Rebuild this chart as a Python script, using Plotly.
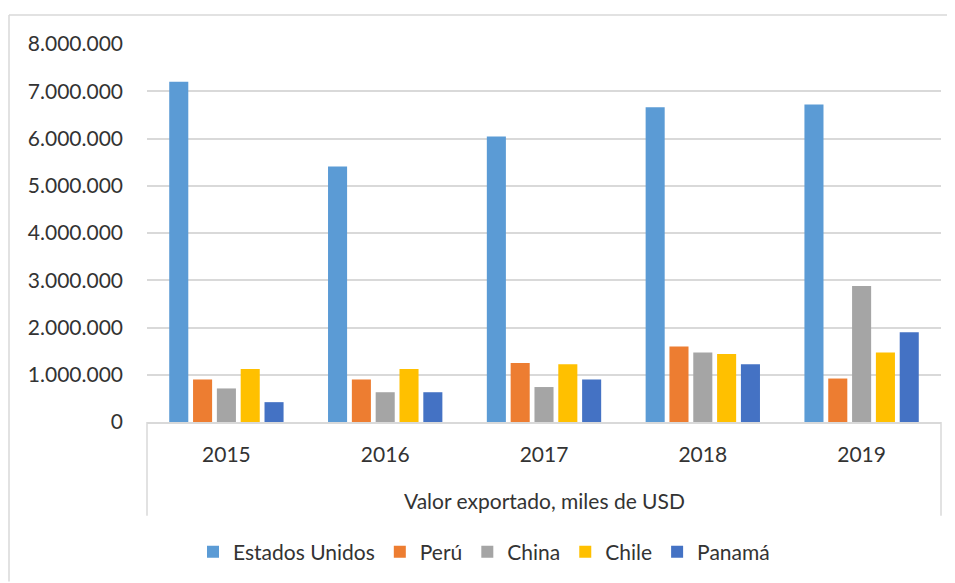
import plotly.graph_objects as go

years = ["2015", "2016", "2017", "2018", "2019"]
axis_title = "Valor exportado, miles de USD"

estados_unidos = [7200000, 5410000, 6040000, 6660000, 6720000]
peru = [900000, 900000, 1250000, 1600000, 920000]
china = [710000, 630000, 740000, 1470000, 2880000]
chile = [1120000, 1120000, 1220000, 1440000, 1470000]
panama = [420000, 630000, 900000, 1220000, 1900000]

series_names = ["Estados Unidos", "Perú", "China", "Chile", "Panamá"]
series_values = [estados_unidos, peru, china, chile, panama]
colors = ["#5B9BD5", "#ED7D31", "#A5A5A5", "#FFC000", "#4472C4"]

y_ticks = [0, 1000000, 2000000, 3000000, 4000000, 5000000, 6000000, 7000000, 8000000]

FONT = "Lato, Liberation Sans, Arial, sans-serif"
TXT = "#333333"
GRID = "#D9D9D9"

fig = go.Figure()
for name, vals, col in zip(series_names, series_values, colors):
    fig.add_trace(go.Bar(name=name, x=years, y=vals, marker=dict(color=col, line=dict(width=0))))

# page body has an 8px margin; the figure is offset by (8, 8)
OFF = 8
W, H = 955 - OFF, 583 - OFF
L = 147 - OFF
T = 44 - OFF
R = W - (941 - OFF)
B = H - (423 - OFF)
pw, ph = W - L - R, H - T - B

def px_x(px):
    return (px - OFF - L) / pw

def px_y(py):
    return (H - B - (py - OFF)) / ph

fig.update_layout(
    width=W, height=H,
    margin=dict(l=L, r=R, t=T, b=B),
    paper_bgcolor="white", plot_bgcolor="white",
    separators=",.",
    barmode="group", bargap=0.25, bargroupgap=0.2,
    font=dict(family=FONT, size=21, color=TXT),
    showlegend=True,
    legend=dict(orientation="h", x=px_x(484), xanchor="center", y=px_y(552), yanchor="middle",
                font=dict(family=FONT, size=21, color=TXT), traceorder="normal",
                itemwidth=30, bgcolor="rgba(0,0,0,0)"),
    xaxis=dict(showline=True, linecolor=GRID, linewidth=1.5, ticks="", showgrid=False,
               tickfont=dict(family=FONT, size=21, color=TXT), ticklabelstandoff=13),
    yaxis=dict(range=[0, 8000000], tickvals=y_ticks, tickformat=",d", showgrid=True,
               gridcolor=GRID, gridwidth=1.5, zeroline=False, showline=False, ticks="",
               tickfont=dict(family=FONT, size=21, color=TXT), ticklabelstandoff=23),
    annotations=[dict(text=axis_title, x=0.5, y=px_y(502), xref="paper", yref="paper",
                      xanchor="center", yanchor="middle", showarrow=False,
                      font=dict(family=FONT, size=21, color=TXT))],
    shapes=[
        dict(type="line", xref="paper", yref="paper", x0=0, x1=0, y0=0, y1=px_y(517),
             line=dict(color=GRID, width=1.5)),
        dict(type="line", xref="paper", yref="paper", x0=1, x1=1, y0=0, y1=px_y(517),
             line=dict(color=GRID, width=1.5)),
        # outer chart border (top and left edges; the others lie outside the picture)
        dict(type="line", xref="paper", yref="paper", x0=px_x(9), x1=px_x(955),
             y0=px_y(15), y1=px_y(15), line=dict(color=GRID, width=1.5), layer="below"),
        dict(type="line", xref="paper", yref="paper", x0=px_x(9), x1=px_x(9),
             y0=px_y(583), y1=px_y(15), line=dict(color=GRID, width=1.5), layer="below"),
    ],
)

fig.write_html("out.html")
